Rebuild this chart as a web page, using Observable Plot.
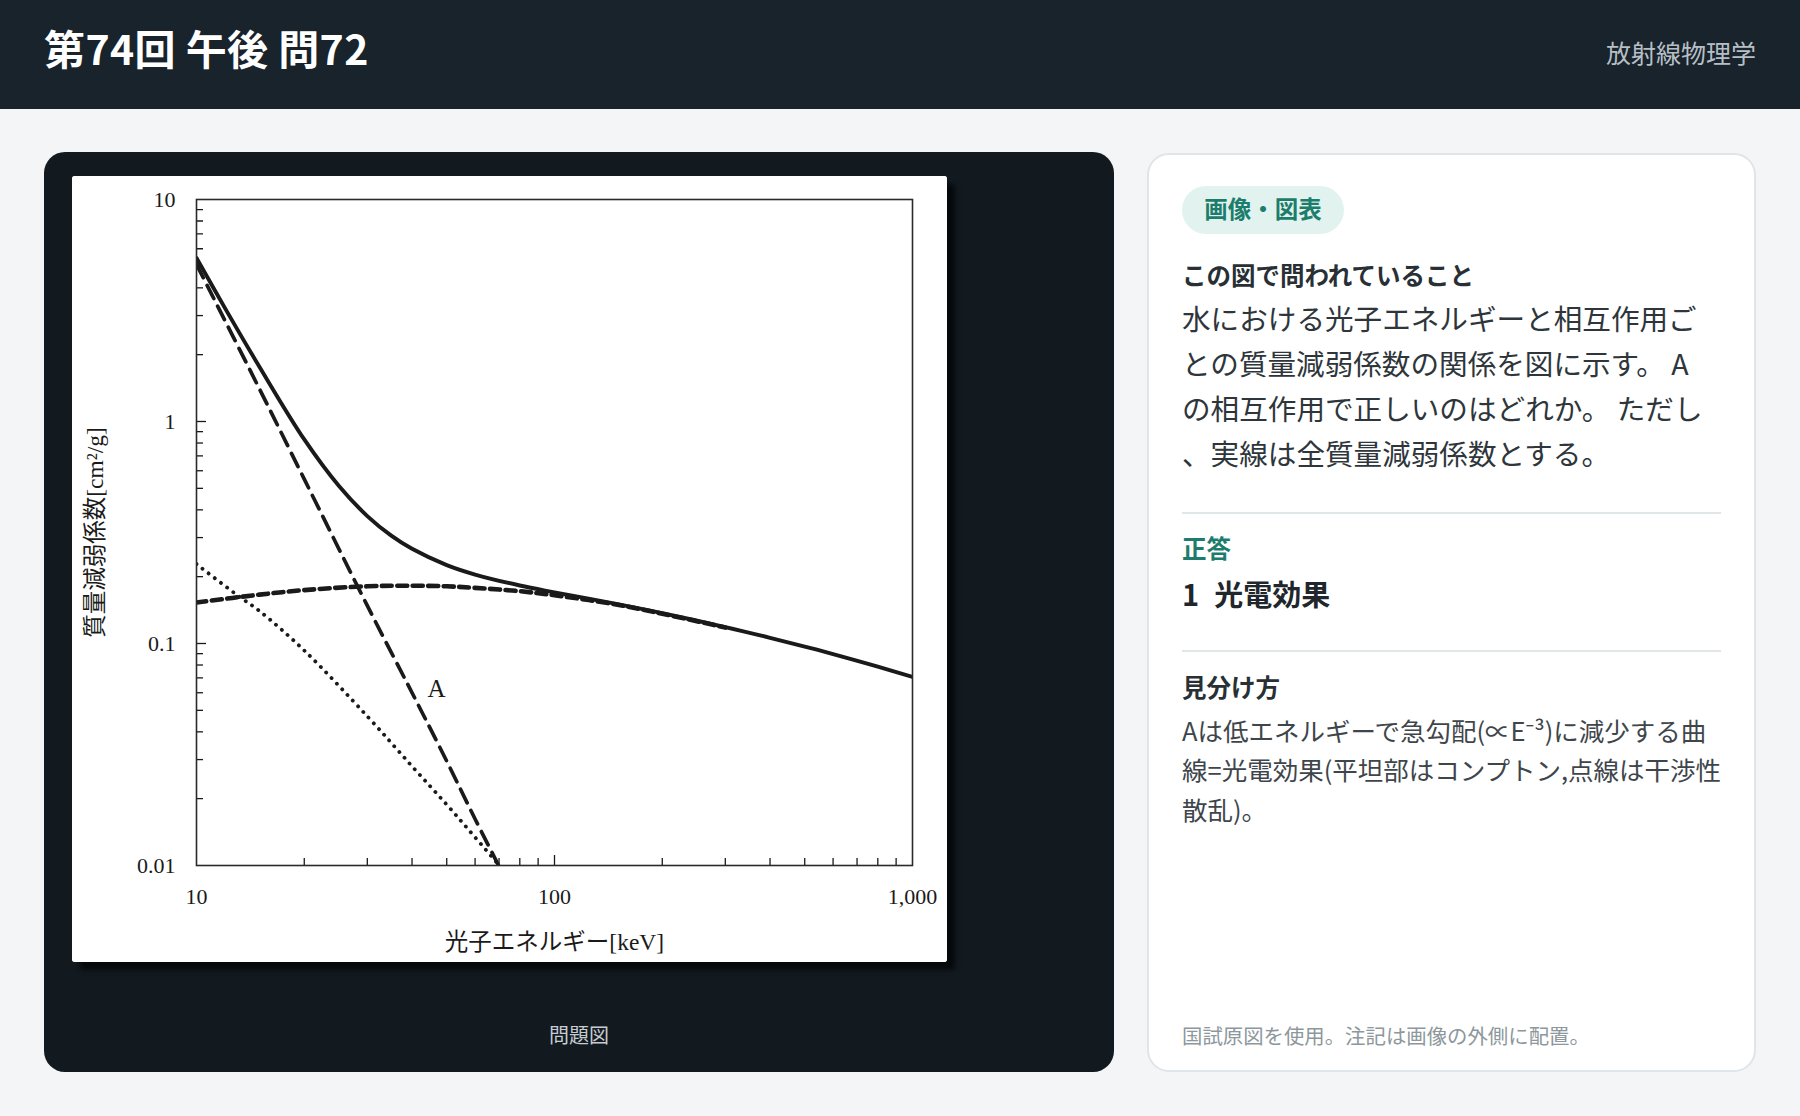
<!DOCTYPE html>
<html lang="ja">
<head>
<meta charset="utf-8">
<script src="https://cdn.jsdelivr.net/npm/d3@7"></script>
<script src="https://cdn.jsdelivr.net/npm/@observablehq/plot@0.6"></script>
<style>
  html, body { margin: 0; padding: 0; }
  body { width: 1800px; height: 1116px; background: #f3f5f6; position: relative; overflow: hidden;
         font-family: "Noto Sans CJK JP", "Noto Sans", sans-serif; }
  .abs { position: absolute; white-space: nowrap; }
  #header { position: absolute; left: 0; top: 0; width: 1800px; height: 109px; background: #18232c; }
  #title { left: 44px; top: 23px; line-height: 48px; font-size: 41px; font-weight: 700; color: #ffffff; letter-spacing: 0.4px; }
  #subject { right: 44px; top: 36px; line-height: 32px; font-size: 25px; color: #b7bfc5; }
  #panel { position: absolute; left: 44px; top: 152px; width: 1070px; height: 920px; background: #121a20; border-radius: 21px; }
  #figure { position: absolute; left: 72px; top: 176px; width: 875px; height: 786px; background: #fff;
            border-radius: 3px; box-shadow: 8px 8px 5px rgba(0,0,0,0.65); overflow: hidden; }
  #caption { left: 0; width: 1158px; text-align: center; top: 1021px; line-height: 28px; font-size: 20px; color: #c6cdd2; }
  #card { position: absolute; left: 1147px; top: 153px; width: 605px; height: 915px; background: #fff;
          border: 2px solid #dfe5e8; border-radius: 22px; }
  #badge { left: 1182px; top: 186px; width: 162px; height: 48px; border-radius: 24px; background: #e2f3ef;
           color: #1d7d6d; font-weight: 700; font-size: 23.5px; line-height: 45px; text-align: center; }
  .h { font-weight: 700; font-size: 24.5px; line-height: 34px; color: #283035; }
  .teal { color: #1d7d6d; }
  #p1 { left: 1182px; top: 294.5px; font-size: 28.6px; line-height: 45.2px; color: #2e363b; }
  #p2 { left: 1182px; top: 710px; font-size: 25.5px; line-height: 39.3px; color: #3e464b; }
  .rule { position: absolute; left: 1182px; width: 539px; height: 2px; background: #e1e6e9; }
  #answer { left: 1182px; top: 573px; font-size: 29px; line-height: 40px; font-weight: 700; color: #1f272c; }
  #note { left: 1182px; top: 1021px; font-size: 20.4px; line-height: 28px; color: #8d979c; }
</style>
</head>
<body>
<div id="header"></div>
<div class="abs" id="title">第74回 午後 問72</div>
<div class="abs" id="subject">放射線物理学</div>

<div id="panel"></div>
<div id="figure"></div>
<div class="abs" id="caption">問題図</div>

<div id="card"></div>
<div class="abs" id="badge">画像・図表</div>
<div class="abs h" style="left:1182px; top:257.5px;">この図で問われていること</div>
<div class="abs" id="p1">水における光子エネルギーと相互作用ご<br>との質量減弱係数の関係を図に示す。 A<br>の相互作用で正しいのはどれか。 ただし<br>、実線は全質量減弱係数とする。</div>
<div class="rule" style="top:512px;"></div>
<div class="abs h teal" style="left:1182px; top:531px;">正答</div>
<div class="abs" id="answer">1<span style="margin-left:15px">光電効果</span></div>
<div class="rule" style="top:650px;"></div>
<div class="abs h" style="left:1182px; top:670px;">見分け方</div>
<div class="abs" id="p2">Aは低エネルギーで急勾配(∝E⁻³)に減少する曲<br>線=光電効果(平坦部はコンプトン,点線は干渉性<br>散乱)。</div>
<div class="abs" id="note">国試原図を使用。注記は画像の外側に配置。</div>

<script>
// ---- data (photon energy in keV, mass attenuation coefficient in cm²/g) ----
const totalEnergy = [10, 12, 15, 20, 25, 30, 35, 40, 50, 60, 80, 100, 150, 200, 300, 400, 500, 600, 800, 1000];
const totalMu     = [5.45, 3.25, 1.76, 0.83, 0.512, 0.375, 0.306, 0.267, 0.2255, 0.2045, 0.1825, 0.170, 0.1505, 0.137, 0.1186, 0.1061, 0.0969, 0.0896, 0.0787, 0.0707];

const photoEnergy = [10, 15, 20, 30, 40, 50, 60, 70, 80];
const photoMu     = [5.1, 1.40, 0.55, 0.148, 0.060, 0.0295, 0.0162, 0.0099, 0.0064];

const comptonEnergy = [10, 15, 20, 30, 40, 50, 60, 80, 100, 150, 200, 300];
const comptonMu     = [0.153, 0.166, 0.174, 0.181, 0.182, 0.181, 0.178, 0.172, 0.165, 0.1495, 0.1362, 0.1180];

const coherentEnergy = [10, 13, 15, 20, 30, 40, 50, 60, 80];
const coherentMu     = [0.228, 0.165, 0.140, 0.093, 0.047, 0.028, 0.0188, 0.0134, 0.0078];

const labelText = ["A"];
const labelEnergy = [46.8];
const labelMu = [0.0626];

const xLabelTicks = [10, 100, 1000];
const xMinorTicks = [20, 30, 40, 50, 60, 70, 80, 90, 200, 300, 400, 500, 600, 700, 800, 900];
const xMajorTicks = [100];
const yLabelTicks = [0.01, 0.1, 1, 10];
const yMajorTicks = [0.1, 1];
const yMinorTicks = [0.02, 0.03, 0.04, 0.05, 0.06, 0.07, 0.08, 0.09,
                     0.2, 0.3, 0.4, 0.5, 0.6, 0.7, 0.8, 0.9,
                     2, 3, 4, 5, 6, 7, 8, 9];

const toRows = (xs, ys) => xs.map((x, i) => ({x, y: ys[i]}));
const total = toRows(totalEnergy, totalMu);
const photo = toRows(photoEnergy, photoMu);
const compton = toRows(comptonEnergy, comptonMu);
const coherent = toRows(coherentEnergy, coherentMu);
const labels = labelText.map((t, i) => ({t, x: labelEnergy[i], y: labelMu[i]}));

const ink = "#1a1a1a";
const chart = Plot.plot({
  width: 875,
  height: 786,
  marginLeft: 124,
  marginTop: 23,
  marginRight: 35,
  marginBottom: 97,
  style: {background: "white", color: ink, fontFamily: "'Liberation Serif', 'Noto Sans CJK JP', serif", fontSize: "22px"},
  x: {type: "log", domain: [10, 1000]},
  y: {type: "log", domain: [0.01, 10]},
  marks: [
    Plot.axisY(yMinorTicks, {tickSize: 7, dx: 7, fill: "none", label: null, strokeWidth: 1.3}),
    Plot.axisY(yMajorTicks, {tickSize: 10, dx: 10, fill: "none", label: null, strokeWidth: 1.3}),
    Plot.axisY(yLabelTicks, {tickSize: 0, tickPadding: 21, tickFormat: d => String(d), fontSize: 22,
      label: "質量減弱係数[cm²/g]", labelAnchor: "center", labelArrow: "none", labelOffset: 110}),
    Plot.axisX(xMinorTicks, {tickSize: 7, dy: -7, fill: "none", label: null, strokeWidth: 1.3}),
    Plot.axisX(xMajorTicks, {tickSize: 10, dy: -10, fill: "none", label: null, strokeWidth: 1.3}),
    Plot.axisX(xLabelTicks, {tickSize: 0, tickPadding: 23, tickFormat: d3.format(","), fontSize: 22,
      label: "光子エネルギー[keV]", labelAnchor: "center", labelArrow: "none", labelOffset: 84}),
    Plot.line(coherent, {x: "x", y: "y", curve: "catmull-rom", stroke: ink, strokeWidth: 3.8,
      strokeDasharray: "0.1,7.6", strokeLinecap: "round", clip: true}),
    Plot.line(compton, {x: "x", y: "y", curve: "catmull-rom", stroke: ink, strokeWidth: 4.6,
      strokeDasharray: "10,5.5", clip: true}),
    Plot.line(photo, {x: "x", y: "y", curve: "catmull-rom", stroke: ink, strokeWidth: 3.7,
      strokeDasharray: "15,8.5", clip: true}),
    Plot.line(total, {x: "x", y: "y", curve: "catmull-rom", stroke: ink, strokeWidth: 3.9, clip: true}),
    Plot.frame({stroke: "#2a2a2a", strokeWidth: 1.6}),
    Plot.text(labels, {x: "x", y: "y", text: "t", fontSize: 25, fill: ink})
  ]
});
// axis label sizes (CJK labels appear a little larger than the tick numbers)
chart.querySelectorAll("g[aria-label='y-axis label'] text, g[aria-label='x-axis label'] text")
  .forEach(t => t.setAttribute("font-size", "23.5"));
document.getElementById("figure").appendChild(chart);
</script>
</body>
</html>
